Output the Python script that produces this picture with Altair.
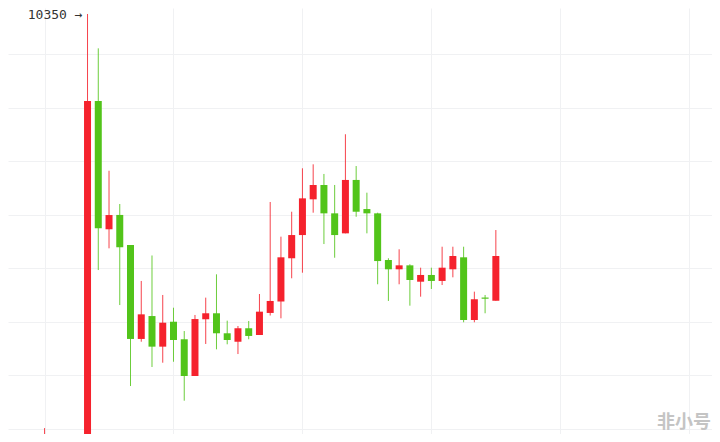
import altair as alt
import pandas as pd

# candle index (time slot), OHLC prices
idx   = [0, 4, 5, 6, 7, 8, 9, 10, 11, 12, 13, 14, 15, 16, 17, 18, 19, 20, 21, 22, 23, 24, 25, 26, 27, 28, 29, 30, 31, 32, 33, 34, 35, 36, 37, 38, 39, 40, 41, 42]
open_ = [6250, 6200, 9537, 8338, 8472, 8191, 7313, 7527, 7241, 7474, 7310, 6967, 7497, 7553, 7366, 7287, 7413, 7350, 7556, 7663, 8067, 8284, 8618, 8752, 8487, 8300, 8799, 8527, 8487, 8051, 7964, 8001, 7848, 7911, 7855, 7964, 8076, 7490, 7700, 7670]
high  = [6480, 10350, 10029, 8885, 8574, 8191, 7855, 8093, 7724, 7605, 7387, 7537, 7699, 7917, 7484, 7434, 7481, 7733, 8593, 8269, 8502, 8908, 8945, 8855, 8752, 9226, 8929, 8680, 8493, 8067, 8151, 8011, 7979, 7979, 8175, 8175, 8175, 7755, 7724, 8331]
low   = [6200, 6150, 7957, 8160, 7630, 6873, 7287, 7051, 7091, 7100, 6736, 6967, 7266, 7216, 7263, 7172, 7310, 7350, 7532, 7506, 7880, 7932, 8493, 8200, 8072, 8300, 8455, 8300, 7824, 7668, 7824, 7624, 7708, 7780, 7817, 7889, 7469, 7469, 7553, 7670]
close = [6330, 9537, 8347, 8471, 8170, 7313, 7543, 7241, 7465, 7303, 6967, 7499, 7553, 7366, 7303, 7413, 7341, 7568, 7668, 8076, 8284, 8627, 8752, 8487, 8284, 8799, 8502, 8487, 8041, 7964, 8001, 7864, 7911, 7855, 7979, 8088, 7490, 7684, 7689, 8088]

grid_x = [0, 12, 24, 36, 48, 60]
grid_y = [10476, 9976, 9476, 8976, 8476, 7976, 7476, 6976, 6476]

UP = "#f5222d"
DOWN = "#52c41a"

df = pd.DataFrame({"i": idx, "open": open_, "high": high, "low": low, "close": close})
df["dir"] = ["up" if c >= o else "down" for o, c in zip(open_, close)]

peak = int(max(high))
peak_i = idx[high.index(max(high))]
lbl = pd.DataFrame({"i": [peak_i], "v": [peak], "t": [f"{peak} \u2192"]})

xs = alt.Scale(domain=[-2.936, 61.651], nice=False, zero=False)
ys = alt.Scale(domain=[6424.7, 10406], nice=False, zero=False)
xaxis = alt.Axis(values=grid_x, grid=True, gridColor="#f0f1f3", labels=False, ticks=False, domain=False, title=None)
yaxis = alt.Axis(values=grid_y, grid=True, gridColor="#f0f1f3", labels=False, ticks=False, domain=False, title=None)
color = alt.Color("dir:N", scale=alt.Scale(domain=["up", "down"], range=[UP, DOWN]), legend=None)

base = alt.Chart(df)

wicks = base.mark_rule(clip=True, strokeWidth=1, opacity=0.85).encode(
    x=alt.X("i:Q", scale=xs, axis=xaxis),
    y=alt.Y("low:Q", scale=ys, axis=yaxis),
    y2="high:Q",
    color=color,
)

bodies = base.mark_bar(clip=True, size=7).encode(
    x=alt.X("i:Q", scale=xs),
    y=alt.Y("open:Q", scale=ys),
    y2="close:Q",
    color=color,
)

label = alt.Chart(lbl).mark_text(
    align="right", baseline="middle", dx=-5, dy=1.5, font="DejaVu Sans Mono", fontSize=13, color="#333333"
).encode(
    x=alt.X("i:Q", scale=xs),
    y=alt.Y("v:Q", scale=ys),
    text="t:N",
)

wm = pd.DataFrame({"t": ["非小号"]})
watermark = alt.Chart(wm).mark_text(
    align="right", baseline="middle", font="Noto Sans CJK SC", fontSize=18, fontWeight="bold", color="#c4c4c4"
).encode(
    x=alt.value(703),
    y=alt.value(415),
    text="t:N",
)

chart = alt.layer(wicks, bodies, label, watermark).properties(
    width=704, height=426, padding=0, autosize=alt.AutoSizeParams(type="none"), background="white"
).configure_view(stroke=None)

chart.save("out.html", embed_options={"renderer": "svg", "actions": False})
